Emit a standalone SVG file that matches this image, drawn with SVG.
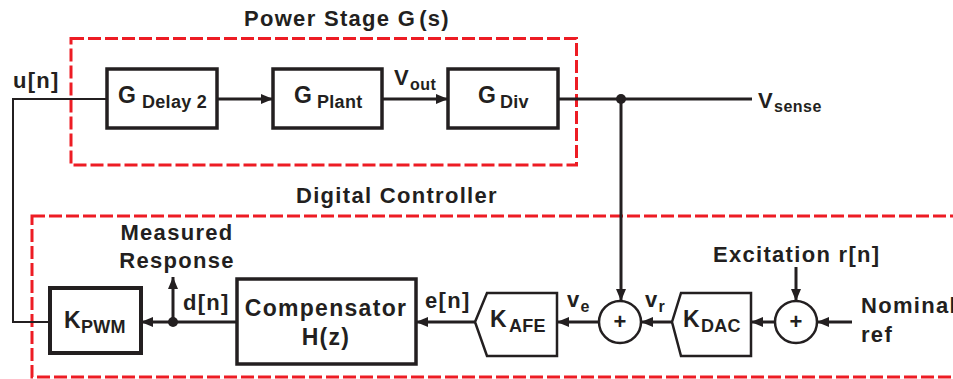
<svg xmlns="http://www.w3.org/2000/svg" width="953" height="379" viewBox="0 0 953 379">
<defs>
<marker id="ah" markerUnits="userSpaceOnUse" markerWidth="14" markerHeight="12" refX="12" refY="5" orient="auto">
<path d="M0,0 L12,5 L0,10 z" fill="#231f20"/>
</marker>
<style>
text{font-family:"Liberation Sans",Arial,sans-serif;font-weight:bold;fill:#231f20;}
.t{font-size:22px;letter-spacing:1.3px;}
.big{font-size:23px;}
.sub{font-size:16px;letter-spacing:0.5px;}
.bsub{font-size:18px;letter-spacing:0.3px;}
.blk{fill:#fff;stroke:#231f20;stroke-width:3.5;}
.cir{fill:#fff;stroke:#231f20;stroke-width:2.5;}
.wire{fill:none;stroke:#231f20;stroke-width:3;}
.thin{fill:none;stroke:#231f20;stroke-width:2;}
.arr{marker-end:url(#ah);}
.grp{fill:none;stroke:#ed1c24;stroke-width:3;stroke-dasharray:13 4;}
</style>
</defs>

<g id="power-stage">
<rect class="grp" x="71" y="38.5" width="505.5" height="126.5"/>
<text class="t" x="244" y="26">Power Stage G<tspan dx="3">(s)</tspan></text>
</g>
<g id="digital-controller">
<rect class="grp" x="32" y="216" width="940" height="161"/>
<text class="t" x="296" y="203">Digital Controller</text>
</g>

<g id="connectors">
<path class="thin" d="M107,99 H13 V322 H50"/>
<path class="wire arr" d="M217,99 H273"/>
<path class="wire arr" d="M382,99 H448"/>
<path class="wire" d="M558,99 H752"/>
<circle cx="621" cy="99" r="5" fill="#231f20"/>
<path class="wire arr" d="M621,99 V301"/>
<path class="wire arr" d="M796,267 V301"/>
<path class="wire arr" d="M852,322 H817"/>
<path class="wire arr" d="M775,322 H751"/>
<path class="wire arr" d="M672,322 H641"/>
<path class="wire arr" d="M599,322 H557"/>
<path class="wire arr" d="M475,322 H416"/>
<path class="wire arr" d="M237,322 H141"/>
<circle cx="173" cy="322" r="5" fill="#231f20"/>
<path class="wire arr" d="M173,322 V277"/>
</g>

<g id="labels">
<text class="t" x="13" y="88">u[n]</text>
<text class="t" x="394" y="85">V<tspan class="sub" dy="5">out</tspan></text>
<text class="t" x="758" y="108">V<tspan class="sub" dy="4">sense</tspan></text>
<text class="t" x="177" y="240" text-anchor="middle">Measured</text>
<text class="t" x="177" y="268" text-anchor="middle">Response</text>
<text class="t" x="183" y="310">d[n]</text>
<text class="t" x="425" y="308">e[n]</text>
<text class="t" x="567" y="307">v<tspan class="sub" dy="5">e</tspan></text>
<text class="t" x="645" y="307">v<tspan class="sub" dy="5">r</tspan></text>
<text class="t" x="713" y="262">Excitation r[n]</text>
<text class="t" x="861" y="313">Nominal</text>
<text class="t" x="861" y="342">ref</text>
</g>

<g id="g-delay2">
<rect class="blk" x="107" y="69" width="110" height="59"/>
<text class="big" x="118" y="103">G<tspan class="bsub" x="142" dy="5">Delay 2</tspan></text>
</g>
<g id="g-plant">
<rect class="blk" x="273" y="69" width="109" height="59"/>
<text class="big" x="294" y="103">G<tspan class="bsub" x="317" dy="5">Plant</tspan></text>
</g>
<g id="g-div">
<rect class="blk" x="448" y="69" width="110" height="59"/>
<text class="big" x="478" y="103">G<tspan class="bsub" x="500" dy="5">Div</tspan></text>
</g>
<g id="k-pwm">
<rect class="blk" x="50" y="288" width="91" height="65" style="stroke-width:4"/>
<text class="big" x="64" y="328">K<tspan class="bsub" x="81" dy="5">PWM</tspan></text>
</g>
<g id="compensator">
<rect class="blk" x="237" y="279" width="179" height="85"/>
<text class="big" x="326" y="316" text-anchor="middle" style="letter-spacing:1.3px">Compensator</text>
<text class="big" x="326" y="345" text-anchor="middle" style="letter-spacing:1.3px">H(z)</text>
</g>
<g id="k-afe">
<path class="blk" d="M475,322 L487,293 H557 V356 H487 Z" style="stroke-width:2.5"/>
<text class="big" x="490" y="327">K<tspan class="bsub" x="509" dy="5">AFE</tspan></text>
</g>
<g id="sum1">
<circle class="cir" cx="620" cy="322" r="21"/>
<text class="t" x="620" y="329" text-anchor="middle" style="letter-spacing:0">+</text>
</g>
<g id="k-dac">
<path class="blk" d="M672,322 L681,293 H751 V356 H681 Z" style="stroke-width:2.5"/>
<text class="big" x="683" y="327">K<tspan class="bsub" x="701" dy="5">DAC</tspan></text>
</g>
<g id="sum2">
<circle class="cir" cx="796" cy="322" r="21"/>
<text class="t" x="796" y="329" text-anchor="middle" style="letter-spacing:0">+</text>
</g>
</svg>
